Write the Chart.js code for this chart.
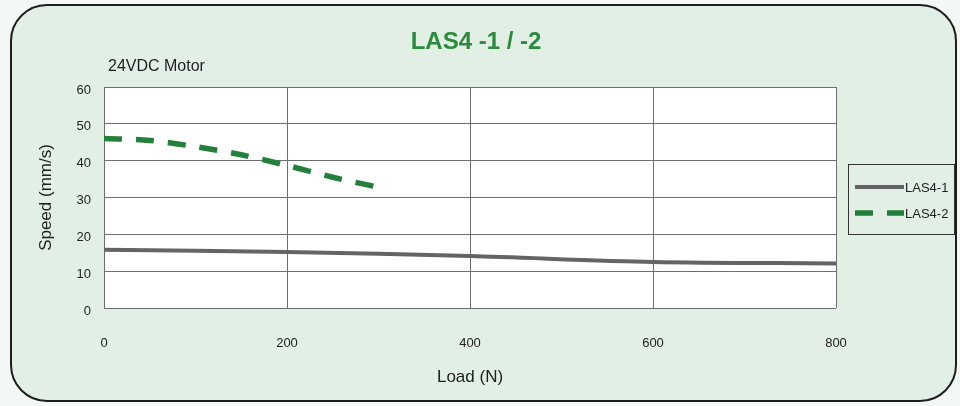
<!DOCTYPE html>
<html>
<head>
<meta charset="utf-8">
<script src="https://cdn.jsdelivr.net/npm/chart.js@4"></script>
<style>
  html, body { margin: 0; padding: 0; background: #f4f8f4; }
  #wrap { width: 960px; height: 406px; }
</style>
</head>
<body>
<div id="wrap"><canvas id="speedChart" width="960" height="406"></canvas></div>
<script>
// values
const xTicks = [0, 200, 400, 600, 800];
const yTicks = [0, 10, 20, 30, 40, 50, 60];

const las41Load = [0, 200, 400, 600, 800];
const las41Speed = [15.8, 15.2, 14.1, 12.5, 12.1];

const las42Load = [0, 50, 100, 150, 200, 250, 300];
const las42Speed = [46, 45.5, 43.8, 41.6, 38.7, 35.5, 32.8];

const chartTitle = 'LAS4 -1 / -2';
const motorLabel = '24VDC Motor';

function toPoints(xs, ys) {
    return xs.map(function(x, i) { return { x: x, y: ys[i] }; });
}

// panel background, rounded frame, white plot, titles and boxed legend
const panelPlugin = {
    id: 'panel',
    beforeDraw: function(chart) {
        const ctx = chart.ctx;
        const area = chart.chartArea;
        ctx.save();
        ctx.fillStyle = '#f4f8f4';
        ctx.fillRect(0, 0, chart.width, chart.height);
        ctx.beginPath();
        ctx.roundRect(11, 5, 945, 396, 36);
        ctx.fillStyle = '#e2efe4';
        ctx.fill();
        ctx.fillStyle = '#ffffff';
        ctx.fillRect(area.left, area.top, area.right - area.left, area.bottom - area.top);
        ctx.restore();
    },
    afterDraw: function(chart) {
        const ctx = chart.ctx;
        const area = chart.chartArea;
        ctx.save();
        ctx.beginPath();
        ctx.roundRect(11, 5, 945, 396, 36);
        ctx.lineWidth = 2;
        ctx.strokeStyle = '#1e1e1e';
        ctx.stroke();

        ctx.fillStyle = '#2b8a3c';
        ctx.font = 'bold 24px "Liberation Sans", Arial, sans-serif';
        ctx.textAlign = 'center';
        ctx.textBaseline = 'middle';
        ctx.fillText(chartTitle, 476, 42);

        ctx.fillStyle = '#1e1e1e';
        ctx.font = '16px "Liberation Sans", Arial, sans-serif';
        ctx.textAlign = 'left';
        ctx.fillText(motorLabel, area.left + 4, 67);

        // legend box
        ctx.lineWidth = 1;
        ctx.strokeStyle = '#333';
        ctx.strokeRect(848.5, 164.5, 106, 70);
        ctx.font = '13px "Liberation Sans", Arial, sans-serif';
        chart.data.datasets.forEach(function(ds, i) {
            const y = 187 + i * 26;
            ctx.beginPath();
            ctx.setLineDash(ds.borderDash || []);
            ctx.lineWidth = ds.borderWidth;
            ctx.strokeStyle = ds.borderColor;
            ctx.moveTo(855, y);
            ctx.lineTo(904, y);
            ctx.stroke();
            ctx.setLineDash([]);
            ctx.fillStyle = '#222';
            ctx.fillText(ds.label, 905, y + 1);
        });
        ctx.restore();
    }
};

const ctx = document.getElementById('speedChart').getContext('2d');
new Chart(ctx, {
    type: 'line',
    data: {
        datasets: [{
            label: 'LAS4-1',
            data: toPoints(las41Load, las41Speed),
            borderColor: '#646464',
            borderWidth: 4,
            pointRadius: 0,
            tension: 0.3
        }, {
            label: 'LAS4-2',
            data: toPoints(las42Load, las42Speed),
            borderColor: '#23803a',
            borderWidth: 5.5,
            borderDash: [18, 14],
            pointRadius: 0,
            tension: 0.3
        }]
    },
    options: {
        responsive: false,
        animation: false,
        layout: { padding: { left: 36, right: 124, top: 87, bottom: 18 } },
        plugins: {
            legend: { display: false },
            title: { display: false },
            tooltip: { enabled: false }
        },
        scales: {
            x: {
                type: 'linear',
                min: 0,
                max: 800,
                afterBuildTicks: function(scale) {
                    scale.ticks = xTicks.map(function(v) { return { value: v }; });
                },
                afterFit: function(scale) { scale.height = 80; },
                grid: { color: '#6e6e6e', lineWidth: 1, drawTicks: false },
                border: { display: false },
                ticks: {
                    padding: 28,
                    color: '#222',
                    font: { size: 13, family: '"Liberation Sans", Arial, sans-serif' },
                    maxRotation: 0
                },
                title: {
                    display: true,
                    text: 'Load (N)',
                    color: '#1e1e1e',
                    padding: 0,
                    font: { size: 17, family: '"Liberation Sans", Arial, sans-serif' }
                }
            },
            y: {
                min: 0,
                max: 60,
                afterBuildTicks: function(scale) {
                    scale.ticks = yTicks.map(function(v) { return { value: v }; });
                },
                afterFit: function(scale) { scale.width = 68; },
                grid: { color: '#6e6e6e', lineWidth: 1, drawTicks: false },
                border: { display: false },
                ticks: {
                    padding: 13,
                    labelOffset: 3,
                    color: '#222',
                    font: { size: 13, family: '"Liberation Sans", Arial, sans-serif' }
                },
                title: {
                    display: true,
                    text: 'Speed (mm/s)',
                    color: '#1e1e1e',
                    padding: { top: 0, bottom: 0 },
                    font: { size: 17, family: '"Liberation Sans", Arial, sans-serif' }
                }
            }
        }
    },
    plugins: [panelPlugin]
});
</script>
</body>
</html>
